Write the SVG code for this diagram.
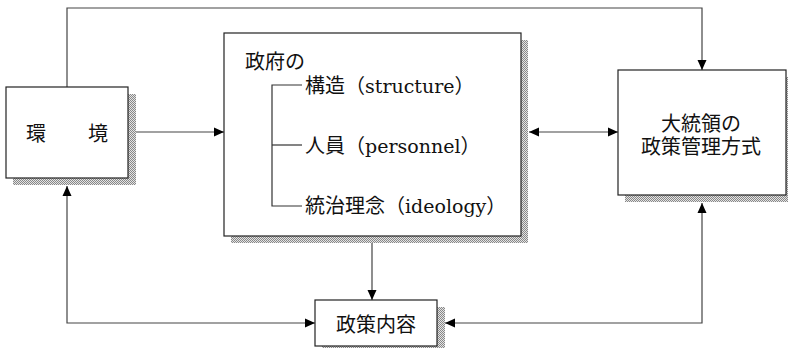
<svg xmlns="http://www.w3.org/2000/svg" width="788" height="348" viewBox="0 0 788 348">
<defs>
<pattern id="dots" width="2" height="2" patternUnits="userSpaceOnUse">
<rect width="2" height="2" fill="#e4e4e4"/>
<rect width="1" height="1" fill="#888"/>
<rect x="1" y="1" width="1" height="1" fill="#888"/>
</pattern>
<marker id="ah" viewBox="0 0 10 10" refX="10" refY="5" markerWidth="10" markerHeight="10" markerUnits="userSpaceOnUse" orient="auto-start-reverse">
<path d="M0,0.5 L10,5 L0,9.5 Z" fill="#000"/>
</marker>
</defs>
<style>
.box{fill:#fff;stroke:#222;stroke-width:1.2}
.sh{fill:url(#dots)}
.t{font-family:"Liberation Serif","Noto Sans CJK JP",serif;font-size:20px;fill:#111}
.lat{font-family:"DejaVu Serif","Liberation Serif",serif;font-size:19px}
.c{fill:none;stroke:#444;stroke-width:1.2}
.br{fill:none;stroke:#333;stroke-width:1.2}
</style>
<rect width="788" height="348" fill="#fff"/>
<g id="connectors">
<polyline class="c" points="67,87 67,8 702,8 702,70" marker-end="url(#ah)"/>
<line class="c" x1="136" y1="132" x2="224" y2="132" marker-end="url(#ah)"/>
<line class="c" x1="529" y1="132" x2="618" y2="132" marker-start="url(#ah)" marker-end="url(#ah)"/>
<line class="c" x1="372" y1="243" x2="372" y2="300" marker-end="url(#ah)"/>
<polyline class="c" points="67,186 67,323 315,323" marker-start="url(#ah)" marker-end="url(#ah)"/>
<polyline class="c" points="702,203 702,323 445,323" marker-start="url(#ah)" marker-end="url(#ah)"/>
</g>
<g id="env">
<rect class="sh" x="13" y="94" width="123" height="91"/>
<rect class="box" x="6" y="87" width="122" height="91"/>
<text class="t" x="26" y="141">環</text>
<text class="t" x="88" y="141">境</text>
</g>
<g id="gov">
<rect class="sh" x="231" y="40" width="297" height="203"/>
<rect class="box" x="224" y="33" width="297" height="203"/>
<text class="t" x="245" y="69">政府の</text>
<polyline class="br" points="302,85 272,85 272,206 302,206"/>
<line class="br" x1="272" y1="145" x2="302" y2="145"/>
<text class="t" x="305" y="93">構造（<tspan class="lat">structure</tspan>）</text>
<text class="t" x="305" y="153">人員（<tspan class="lat">personnel</tspan>）</text>
<text class="t" x="305" y="213">統治理念（<tspan class="lat">ideology</tspan>）</text>
</g>
<g id="president">
<rect class="sh" x="625" y="77" width="168" height="125"/>
<rect class="box" x="618" y="70" width="168" height="125"/>
<text class="t" x="701" y="131" text-anchor="middle">大統領の</text>
<text class="t" x="701" y="154" text-anchor="middle">政策管理方式</text>
</g>
<g id="policy">
<rect class="sh" x="322" y="307" width="123" height="46"/>
<rect class="box" x="315" y="300" width="122" height="46"/>
<text class="t" x="376" y="332" text-anchor="middle">政策内容</text>
</g>
</svg>
